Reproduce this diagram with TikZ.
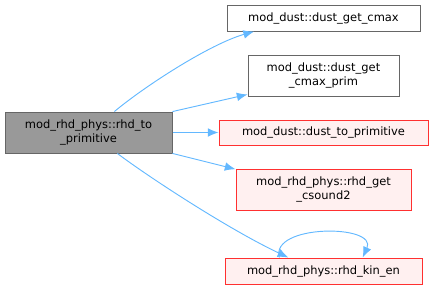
\documentclass[tikz,border=0pt]{standalone}
\usepackage{fontspec}
\setmainfont{DejaVu Sans}
\usetikzlibrary{arrows.meta}

\definecolor{edgeblue}{HTML}{63B8FF}
\definecolor{boxgray}{HTML}{666666}
\definecolor{fillgray}{HTML}{999999}
\definecolor{fillred}{HTML}{FFF0F0}
\definecolor{linered}{HTML}{FF3030}

\begin{document}
\begin{tikzpicture}[x=0.75pt,y=-0.75pt,->,>={Latex[length=8pt,width=6.5pt]},line width=0.7pt]
\tikzstyle{fn}=[rectangle,draw=boxgray,fill=white,text=black,inner sep=0pt,align=center,font=\fontsize{8.6}{10}\selectfont,line width=0.75pt]
\tikzstyle{root}=[fn,fill=fillgray]
\tikzstyle{trunc}=[fn,draw=linered,fill=fillred]
\tikzstyle{call}=[draw=edgeblue]
\useasboundingbox (0,0) rectangle (433,289);
\node[root,minimum width=125.25pt,minimum height=30.75pt] (0) at (88.5,132.5) {mod\_rhd\_phys::rhd\_to\\\_primitive};
\node[fn,minimum width=144.75pt,minimum height=19.5pt] (1) at (323.5,18) {mod\_dust::dust\_get\_cmax};
\node[fn,minimum width=113.25pt,minimum height=30.75pt] (2) at (323.5,75.5) {mod\_dust::dust\_get\\\_cmax\_prim};
\node[trunc,minimum width=156.75pt,minimum height=18.75pt] (3) at (323.5,132.5) {mod\_dust::dust\_to\_primitive};
\node[trunc,minimum width=131.25pt,minimum height=30.75pt] (4) at (323.5,189.5) {mod\_rhd\_phys::rhd\_get\\\_csound2};
\node[trunc,minimum width=147.75pt,minimum height=19.5pt] (5) at (323.5,271) {mod\_rhd\_phys::rhd\_kin\_en};
\draw[call] (0.39) .. controls (145,86) and (210,44) .. (1.191);
\draw[call] (0.14) -- (2.194);
\draw[call] (0.east) -- (3.west);
\draw[call] (0.346) -- (4.167);
\draw[call] (0.324) .. controls (150,178) and (230,230) .. (5.159);
\draw[call] (5.163) .. controls (270,224) and (378,224) .. (5.19);
\end{tikzpicture}
\end{document}
